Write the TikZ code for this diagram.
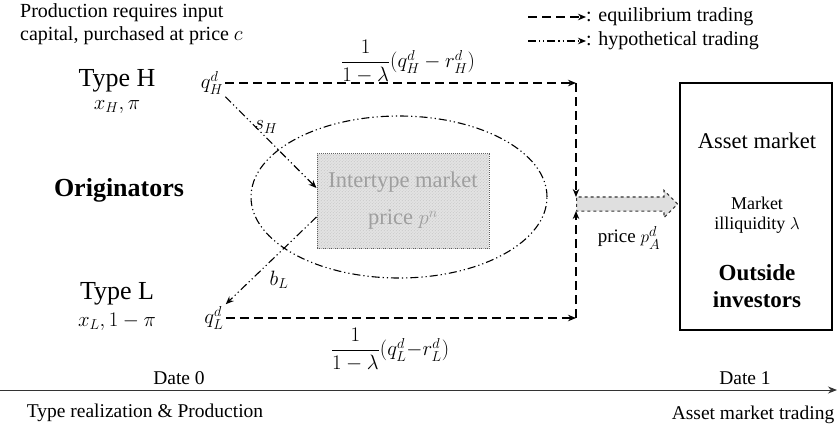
\documentclass[tikz,border=0pt]{standalone}
\usepackage{fontspec}
\setmainfont{Liberation Serif}
\usepackage{amsmath}
\usetikzlibrary{arrows.meta,shapes.arrows,shapes.geometric,patterns}

\begin{document}
\begin{tikzpicture}[
  x=1pt, y=-1pt,
  eqline/.style={line width=1.2pt, dash pattern=on 9pt off 5pt},
  hypline/.style={line width=1.1pt, dash pattern=on 8pt off 3pt on 1.2pt off 3pt on 1.2pt off 3pt},
  tip/.style={-{Stealth[length=8pt,width=6.5pt]}},
  note/.style={font=\fontsize{20}{23}\selectfont, align=left, inner sep=0pt},
  typelab/.style={font=\fontsize{26}{30}\selectfont, inner sep=0pt},
  mathlab/.style={font=\fontsize{21}{25}\selectfont, inner sep=2pt},
  boldlab/.style={font=\fontsize{26}{30}\selectfont\bfseries, inner sep=1pt},
  datelab/.style={font=\fontsize{19.5}{23}\selectfont, inner sep=1pt},
  interbox/.style={draw=gray!70!black, densely dotted, line width=1pt,
    fill=gray!22, postaction={pattern=north east lines, pattern color=gray!45},
    minimum width=172pt, minimum height=95pt, align=center,
    text=gray!75, font=\fontsize{22.5}{37}\selectfont},
  flow/.style={single arrow, draw=gray!40!black, dashed, line width=1.1pt, fill=gray!25,
    minimum height=101pt, inner xsep=0pt, inner ysep=6.5pt,
    single arrow head extend=6.5pt, anchor=tail}
]
  \useasboundingbox (0,0) rectangle (838,432);

  % notes and legend
  \node[note, anchor=north west] (prod) at (20,3) {Production requires input\\capital, purchased at price $c$};
  \node[note, anchor=west] (leg1) at (586,17) {: equilibrium trading};
  \node[note, anchor=west] (leg2) at (586,41) {: hypothetical trading};
  \coordinate (leg1s) at (528,17);
  \coordinate (leg2s) at (528,41);
  \draw[eqline, tip] (leg1s) -- (leg1.west);
  \draw[hypline, tip] (leg2s) -- (leg2.west);

  % originators
  \node[typelab] (typeH) at (117,81) {Type H};
  \node[mathlab, inner sep=0pt] (xH) at (117,107) {$x_H,\pi$};
  \node[boldlab] (orig) at (119,190) {Originators};
  \node[typelab] (typeL) at (117,294) {Type L};
  \node[mathlab, inner sep=0pt] (xL) at (117,322) {$x_L,1-\pi$};
  \node[mathlab] (qH) at (212,83) {$q_H^d$};
  \node[mathlab] (qL) at (214,318) {$q_L^d$};

  % intertype market
  \node[ellipse, draw, hypline, minimum width=296pt, minimum height=162pt] (pool) at (399,197) {};
  \node[interbox] (inter) at (403,201) {Intertype market\\price $p^n$};
  \draw[hypline, tip] (qH.south east) -- ([yshift=13pt]inter.west);
  \draw[hypline, tip] ([yshift=-16pt]inter.west) -- (qL.north east);
  \node[mathlab] (sH) at (266,127) {$s_H$};
  \node[mathlab] (bL) at (279,280) {$b_L$};

  % equilibrium trading
  \coordinate (cornerH) at (576,83);
  \coordinate (cornerL) at (576,318);
  \coordinate (midH) at (576,197);
  \coordinate (midL) at (576,211);
  \draw[eqline, tip] (qH) -- (cornerH);
  \draw[eqline, tip] (qL) -- (cornerL);
  \draw[eqline, tip] (cornerH) -- (midH);
  \draw[eqline, tip] (cornerL) -- (midL);
  \node[mathlab] (fracH) at (408,62) {$\dfrac{1}{1-\lambda}(q_H^d-r_H^d)$};
  \node[mathlab] (fracL) at (390,350) {$\dfrac{1}{1-\lambda}(q_L^d{-}r_L^d)$};

  % asset market
  \node[flow] (flow) at (576,204) {};
  \node[mathlab, inner sep=0pt, font=\fontsize{19}{23}\selectfont] (price) at (629,238) {price $p_A^d$};
  \node[draw, line width=1.2pt, minimum width=152pt, minimum height=247pt] (asset) at (756,206.5) {};
  \node[font=\fontsize{22.5}{26}\selectfont] (assetT) at (757,141) {Asset market};
  \node[font=\fontsize{18}{22}\selectfont] (mkt) at (757,203) {Market};
  \node[font=\fontsize{18}{22}\selectfont] (illiq) at (757,225) {illiquidity $\lambda$};
  \node[font=\fontsize{23}{27}\selectfont\bfseries] (outT) at (757,273) {Outside};
  \node[font=\fontsize{23}{27}\selectfont\bfseries] (invT) at (757,300) {investors};

  % timeline
  \coordinate (t0) at (0,390);
  \coordinate (t1) at (837,390);
  \draw[line width=0.9pt, draw=black!80, -{Stealth[length=9pt,width=7pt]}] (t0) -- (t1);
  \node[datelab] (date0) at (179,378) {Date 0};
  \node[datelab] (date1) at (745,378) {Date 1};
  \node[datelab] (real) at (145,413) {Type realization \& Production};
  \node[datelab] (trade) at (753,415) {Asset market trading};
\end{tikzpicture}
\end{document}
